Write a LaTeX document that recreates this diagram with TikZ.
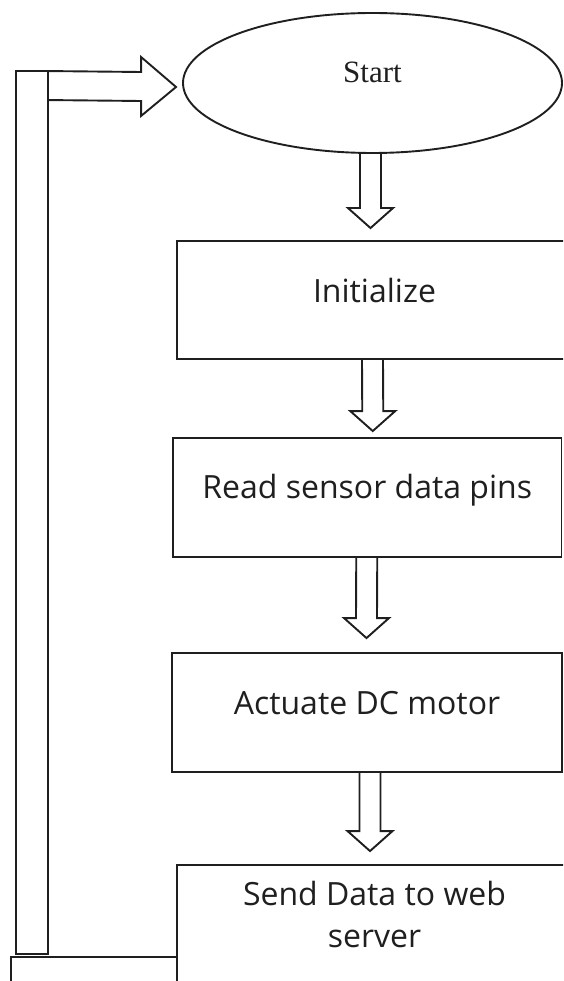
\documentclass[tikz,border=0pt]{standalone}
\usepackage{fontspec}
\newfontfamily\boxfont{Open Sans}
\newfontfamily\startfont{Liberation Serif}
\usetikzlibrary{shapes.geometric,calc}

\tikzset{
  flowline/.style={line width=1.9pt, draw=black!88},
  procbox/.style={flowline, rectangle, inner sep=0pt,
    font=\boxfont\fontsize{32}{42}\selectfont, text=black!88, text height=22pt},
  startshape/.style={flowline, ellipse, inner sep=0pt,
    font=\startfont\fontsize{31}{36}\selectfont, text=black!88,
    text height=20pt, text depth=20pt},
  blockarrow/.style={flowline, line join=miter},
}

% hollow block arrow pointing down, from a start point to a tip point
\newcommand\downblock[2]{%
  \draw[blockarrow] ($(#1)+(-10.5,0)$) -- ($(#2)+(-10.5,-20)$)
    -- ($(#2)+(-22.5,-20)$) -- (#2) -- ($(#2)+(22.5,-20)$)
    -- ($(#2)+(10.5,-20)$) -- ($(#1)+(10.5,0)$);}

\begin{document}
\begin{tikzpicture}[x=1pt,y=-1pt]
  \useasboundingbox (0,0) rectangle (563,981);
  \clip (0,0) rectangle (563,981);

  % start terminal
  \node[startshape, minimum width=379pt, minimum height=140pt] (start) at (372.5,83) {Start};

  % process steps
  \node[procbox, minimum width=395pt, minimum height=118pt, text depth=18pt]
    (init) at (374.5,300) {Initialize};
  \node[procbox, minimum width=388.5pt, minimum height=119pt, text depth=21pt]
    (read) at (367.25,497.5) {Read sensor data pins};
  \node[procbox, minimum width=390pt, minimum height=119pt, text depth=19pt]
    (act) at (367,712.5) {Actuate DC motor};
  \node[procbox, minimum width=395pt, minimum height=135pt, align=center,
    text height=50pt, text depth=21pt]
    (send) at (374.5,932.5) {Send Data to web\\server};

  % box at the foot of the return path
  \node[flowline, rectangle, inner sep=0pt, minimum width=166pt, minimum height=43pt]
    (foot) at (94,978.5) {};

  % downward block arrows between the steps
  \coordinate (a1s) at ($(start.south)+(-2,0)$);
  \coordinate (a1e) at ($(init.north)+(-4,-12)$);
  \coordinate (a2s) at ($(init.south)+(-2,0)$);
  \coordinate (a2e) at ($(read.north)+(5.5,-6)$);
  \coordinate (a3s) at ($(read.south)+(-0.5,0)$);
  \coordinate (a3e) at ($(act.north)+(-0.5,-14)$);
  \coordinate (a4s) at ($(act.south)+(3,0)$);
  \coordinate (a4e) at ($(send.north)+(-4.5,-13)$);
  \downblock{a1s}{a1e}
  \downblock{a2s}{a2e}
  \downblock{a3s}{a3e}
  \downblock{a4s}{a4e}

  % return path back to the start
  \coordinate (barbot) at ($(foot.north west)+(6,-2)$);
  \coordinate (looptip) at ($(start.west)+(-6,4)$);
  \draw[flowline] (barbot) rectangle ++(32,-883);
  \draw[blockarrow] ($(barbot)+(32,-883)$) -- ($(looptip)+(-35,-15)$)
    -- ($(looptip)+(-35,-30)$) -- (looptip) -- ($(looptip)+(-35,29)$)
    -- ($(looptip)+(-35,14)$) -- ($(barbot)+(32,-854)$);
\end{tikzpicture}
\end{document}
